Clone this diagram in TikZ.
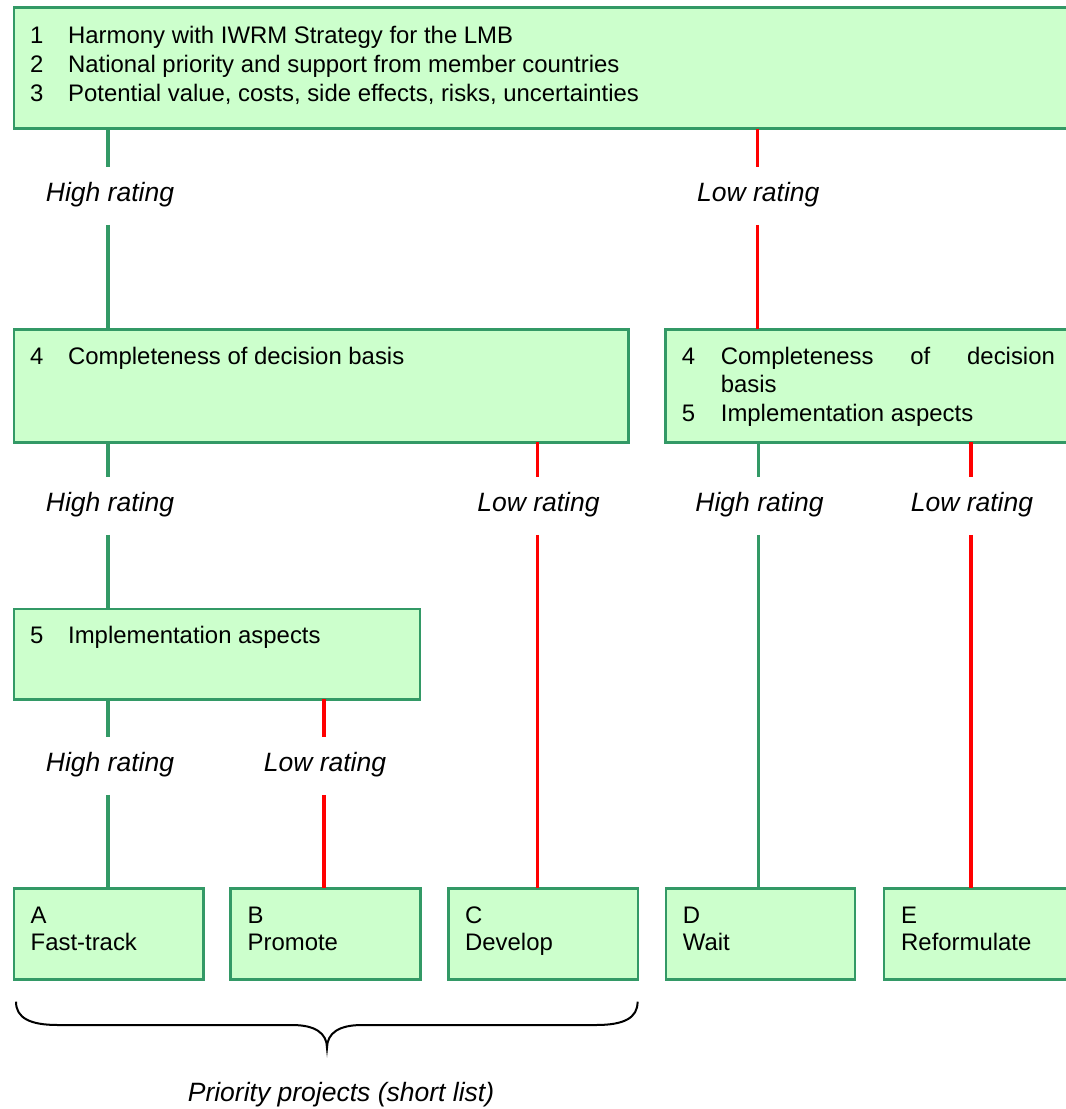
\documentclass[tikz,border=0pt]{standalone}
\usepackage{fontspec}
\setmainfont{Liberation Sans}
\definecolor{boxfill}{HTML}{CCFFCC}
\definecolor{boxgreen}{HTML}{339966}
\definecolor{linegreen}{HTML}{339966}
\definecolor{linered}{HTML}{FF0000}
\tikzset{
  box/.style={draw=boxgreen, fill=boxfill, line width=2.5pt, rectangle, inner sep=0pt, outer sep=0pt, anchor=north west},
  txt/.style={anchor=base west, inner sep=0pt, font=\fontsize{23.9}{29}\selectfont},
  rate/.style={anchor=base, inner sep=0pt, font=\fontsize{26.5}{30}\selectfont\itshape, text height=35pt, text depth=23pt},
  gline/.style={draw=linegreen, line width=3.5pt},
  rline/.style={draw=linered, line width=3.5pt},
  bracestyle/.style={draw=black, line width=2pt}
}
\begin{document}
\begin{tikzpicture}[x=1pt,y=-1pt]
\useasboundingbox (0,0) rectangle (1066,1109);
\clip (0,0) rectangle (1066,1109);

% boxes
\node[box, minimum width=1100pt, minimum height=121pt] (top) at (14,7.5) {};
\node[box, minimum width=614.4pt, minimum height=113pt] (b4) at (14,329.3) {};
\node[box, minimum width=500pt, minimum height=113pt] (b45) at (665.7,329.3) {};
\node[box, minimum width=406pt, minimum height=90.3pt] (b5) at (14,609) {};
\node[box, minimum width=189.7pt, minimum height=91pt] (A) at (14,888.3) {};
\node[box, minimum width=190pt, minimum height=91pt] (B) at (230.6,888.3) {};
\node[box, minimum width=189.3pt, minimum height=91pt] (C) at (448.7,888.3) {};
\node[box, minimum width=189pt, minimum height=91pt] (D) at (666,888.3) {};
\node[box, minimum width=189pt, minimum height=91pt] (E) at (884,888.3) {};

% box texts
\node[txt] (t1) at (30,43.3) {\makebox[38pt][l]{1}Harmony with IWRM Strategy for the LMB};
\node[txt] (t2) at (30,72.5) {\makebox[38pt][l]{2}National priority and support from member countries};
\node[txt] (t3) at (30,101.7) {\makebox[38pt][l]{3}Potential value, costs, side effects, risks, uncertainties};

\node[txt] (t4) at (30,364) {\makebox[38pt][l]{4}Completeness of decision basis};

\node[txt] (r4) at (681.7,364) {\makebox[39pt][l]{4}\makebox[334pt][s]{Completeness of decision}};
\node[txt] (r4b) at (720.7,392) {basis};
\node[txt] (r5) at (681.7,421) {\makebox[39pt][l]{5}Implementation aspects};

\node[txt] (t5) at (30,643.3) {\makebox[38pt][l]{5}Implementation aspects};

\node[txt] (Aa) at (30.5,923.3) {A};
\node[txt] (Ab) at (30.5,950.7) {Fast-track};
\node[txt] (Ba) at (247.5,923.3) {B};
\node[txt] (Bb) at (247.5,950.7) {Promote};
\node[txt] (Ca) at (465,923.3) {C};
\node[txt] (Cb) at (465,950.7) {Develop};
\node[txt] (Da) at (682.7,923.3) {D};
\node[txt] (Db) at (682.7,950.7) {Wait};
\node[txt] (Ea) at (901,923.3) {E};
\node[txt] (Eb) at (901,950.7) {Reformulate};

% rating labels
\node[rate] (hr1) at (108,201.7) {\hspace*{4pt}High rating};
\node[rate] (lr1) at (757.3,201.7) {\hspace*{2pt}Low rating};
\node[rate] (hr2) at (108,511.7) {\hspace*{4pt}High rating};
\node[rate] (lr2) at (537.5,511.7) {\hspace*{2pt}Low rating};
\node[rate] (hr3) at (758.5,511.7) {\hspace*{2pt}High rating};
\node[rate] (lr3) at (971,511.7) {\hspace*{2pt}Low rating};
\node[rate] (hr4) at (108,771.7) {\hspace*{4pt}High rating};
\node[rate] (lr4) at (324,771.7) {\hspace*{2pt}Low rating};

% connectors
\draw[gline] (top.south -| hr1) -- (hr1.north);
\draw[gline] (hr1.south) -- (b4.north -| hr1);
\draw[rline] (top.south -| lr1) -- (lr1.north);
\draw[rline] (lr1.south) -- (b45.north -| lr1);

\draw[gline] (b4.south -| hr2) -- (hr2.north);
\draw[gline] (hr2.south) -- (b5.north -| hr2);
\draw[rline] (b4.south -| lr2) -- (lr2.north);
\draw[rline] (lr2.south) -- (C.north -| lr2);

\draw[gline] (b45.south -| hr3) -- (hr3.north);
\draw[gline] (hr3.south) -- (D.north -| hr3);
\draw[rline] (b45.south -| lr3) -- (lr3.north);
\draw[rline] (lr3.south) -- (E.north -| lr3);

\draw[gline] (b5.south -| hr4) -- (hr4.north);
\draw[gline] (hr4.south) -- (A.north -| hr4);
\draw[rline] (b5.south -| lr4) -- (lr4.north);
\draw[rline] (lr4.south) -- (B.north -| lr4);

% brace
\draw[bracestyle] (16,1001.7) .. controls (16,1018) and (30,1025) .. (58,1025) -- (292,1025)
  .. controls (315,1025) and (327,1033) .. (327,1048)
  .. controls (327,1033) and (339,1025) .. (362,1025) -- (596,1025)
  .. controls (624,1025) and (637.6,1018) .. (637.6,1001.7);
\node[anchor=base, inner sep=0pt, font=\fontsize{26.5}{30}\selectfont\itshape] (prio) at (341,1101.7) {Priority projects (short list)};
\end{tikzpicture}
\end{document}
